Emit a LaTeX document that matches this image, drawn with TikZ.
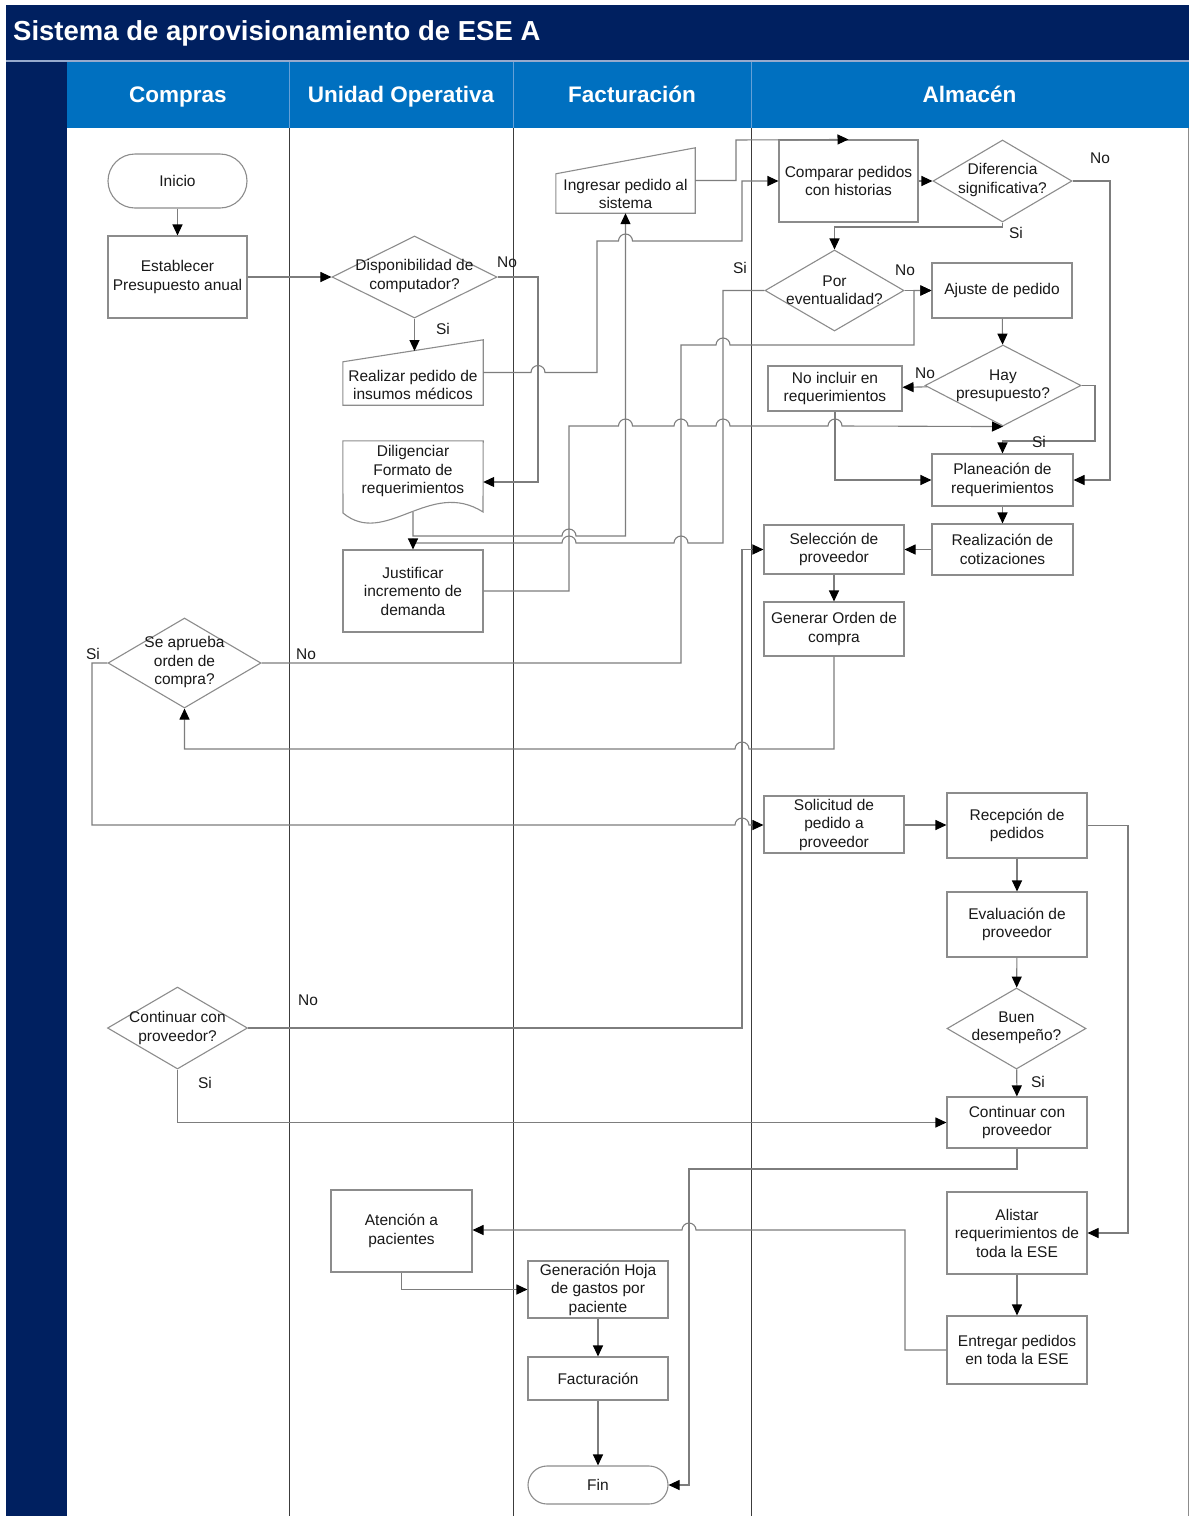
\documentclass[tikz,border=0pt]{standalone}
\usepackage{fontspec}
\setmainfont{Liberation Sans}
\usetikzlibrary{arrows.meta,shapes.geometric}
\definecolor{navy}{RGB}{0,32,96}
\definecolor{headblue}{RGB}{0,112,192}
\definecolor{sepblue}{RGB}{100,160,215}
\definecolor{edgegray}{RGB}{140,140,140}
\definecolor{linkgray}{RGB}{125,125,125}
\definecolor{lanegray}{RGB}{60,60,60}
\definecolor{inkgray}{RGB}{25,25,25}

% line hops over a crossing connector (rightwards / leftwards)
\newcommand\hopr[2]{-- ({#1-7},#2) arc[start angle=180,end angle=0,radius=7pt]}
\newcommand\hopl[2]{-- ({#1+7},#2) arc[start angle=0,end angle=180,radius=7pt]}

\begin{document}
\begin{tikzpicture}[x=1pt,y=-1pt,
  txt/.style={inner sep=0pt,align=center,text=inkgray,font=\fontsize{15.5}{18.5}\selectfont},
  shp/.style={draw=edgegray,line width=1.1pt},
  box/.style 2 args={txt,shp,rectangle,minimum width=#1pt,minimum height=#2pt},
  dec/.style 2 args={shp,diamond,inner sep=0pt,minimum width=#1pt,minimum height=#2pt},
  frame/.style 2 args={inner sep=0pt,minimum width=#1pt,minimum height=#2pt},
  link/.style={draw=linkgray,line width=1.1pt,-{Triangle[length=11pt,width=10pt,color=black]}},
  lane/.style={draw=lanegray,line width=0.9pt},
  headtxt/.style={anchor=base,inner sep=0pt,text=white,font=\bfseries\fontsize{22.5}{26}\selectfont}]

\useasboundingbox (0,0) rectangle (1189,1516);

% ---------- pool frame ----------
\fill[navy] (6,5) rectangle (1189,1516);
\fill[headblue] (67,62) rectangle (1189,128);
\fill[white] (67,128) rectangle (1188,1516);
\draw[color={rgb,255:red,150;green,170;blue,205},line width=1.5pt] (6,61) -- (1189,61);
\draw[edgegray,line width=1pt] (1188,128) -- (1188,1516);
\node[anchor=west,text=white,inner sep=0pt,font=\bfseries\fontsize{27.5}{32}\selectfont] (title) at (13,33) {Sistema de aprovisionamiento de ESE A};

% lane headers and dividers
\foreach \lx in {289,513,751} {
  \draw[sepblue,line width=1pt] (\lx,62) -- (\lx,128);
  \draw[lane] (\lx,128) -- (\lx,1516);
}
\node[headtxt] (h1) at (178,102) {Compras};
\node[headtxt] (h2) at (401,102) {Unidad Operativa};
\node[headtxt] (h3) at (632,102) {Facturación};
\node[headtxt] (h4) at (969.5,102) {Almacén};

% ---------- Compras ----------
\node[box={139}{54},rounded corners=27pt] (inicio) at (177.5,181) {Inicio};
\node[box={139}{82}] (presup) at (177.5,277) {Establecer\\Presupuesto anual};
\node[dec={153}{90}] (aprueba) at (184.5,663) {};
\node[txt] (aprueba-t) at (184.5,662) {Se aprueba\\orden de\\compra?};
\node[dec={140}{82}] (contq) at (177.5,1028) {};
\node[txt] (contq-t) at (177.5,1028) {Continuar con\\proveedor?};

% ---------- Unidad Operativa ----------
\node[dec={165}{82}] (disp) at (414.5,277) {};
\node[txt] (disp-t) at (414.5,276) {Disponibilidad de\\computador?};

\node[frame={140}{65}] (realizar) at (413,372.5) {};
\draw[shp] (realizar.south west) -- (realizar.south east) -- (realizar.north east)
  -- ([yshift=-22pt]realizar.north west) -- cycle;
\node[txt] (realizar-t) at (413,385) {Realizar pedido de\\insumos médicos};
\coordinate (realizar-in) at (414.5,351);

\node[frame={140}{72}] (dilig) at (413,477) {};
\draw[shp] (dilig.north west) -- (dilig.north east) -- (483,512)
  .. controls (430,478) and (385,548) .. (343,513) -- cycle;
\node[txt] (dilig-t) at (413,471) {Diligenciar\\Formato de\\requerimientos};
\coordinate (dilig-out) at (413,512);

\node[box={140}{82}] (justif) at (413,591) {Justificar\\incremento de\\demanda};
\node[box={141}{82}] (atencion) at (401.5,1231) {Atención a\\pacientes};

% ---------- Facturación ----------
\node[frame={139}{65}] (ingresar) at (625.5,180.5) {};
\draw[shp] (ingresar.south west) -- (ingresar.south east) -- (ingresar.north east)
  -- ([yshift=-26pt]ingresar.north west) -- cycle;
\node[txt] (ingresar-t) at (625.5,194) {Ingresar pedido al\\sistema};

\node[box={140}{57}] (genhoja) at (598,1289.5) {Generación Hoja\\de gastos por\\paciente};
\node[box={140}{43}] (factur) at (598,1378.5) {Facturación};
\node[box={140}{38},rounded corners=19pt] (fin) at (598,1485) {Fin};

% ---------- Almacén ----------
\node[box={139}{82}] (comparar) at (848.5,181) {Comparar pedidos\\con historias};
\node[dec={139}{82}] (dif) at (1002.5,181) {};
\node[txt] (dif-t) at (1002.5,180) {Diferencia\\significativa?};
\node[dec={139}{81}] (porev) at (834.5,290.5) {};
\node[txt] (porev-t) at (834.5,290) {Por\\eventualidad?};
\node[box={140}{55}] (ajuste) at (1002,290.5) {Ajuste de pedido};
\node[dec={156}{81}] (haypres) at (1003,385.5) {};
\node[txt] (haypres-t) at (1003,386) {Hay\\presupuesto?};
\node[box={134}{45}] (noincl) at (835,388.5) {No incluir en\\requerimientos};
\node[box={141}{52}] (planea) at (1002.5,480) {Planeación de\\requerimientos};
\node[box={141}{51}] (realiz) at (1002.5,549.5) {Realización de\\cotizaciones};
\node[box={140}{49}] (selecc) at (834,549.5) {Selección de\\proveedor};
\node[box={140}{54}] (generar) at (834,629) {Generar Orden de\\compra};
\node[box={140}{57}] (solicit) at (834,824.5) {Solicitud de\\pedido a\\proveedor};
\node[box={140}{65}] (recep) at (1017,825.5) {Recepción de\\pedidos};
\node[box={140}{65}] (evalua) at (1017,924.5) {Evaluación de\\proveedor};
\node[dec={139}{81}] (buen) at (1016.5,1028.5) {};
\node[txt] (buen-t) at (1016.5,1028) {Buen\\desempeño?};
\node[box={140}{51}] (contprov) at (1017,1122.5) {Continuar con\\proveedor};
\node[box={140}{82}] (alistar) at (1017,1233) {Alistar\\requerimientos de\\toda la ESE};
\node[box={140}{68}] (entregar) at (1017,1350) {Entregar pedidos\\en toda la ESE};

% ---------- connectors ----------
\draw[link] (inicio) -- (presup);
\draw[link] (presup) -- (disp);
\draw[link] (disp.south) -- (realizar-in);
\draw[link] (disp.east) -- (538,277) -- (538,482) -- (dilig.east |- 0,482);
\draw[link] (realizar.east) \hopr{538}{372.5} -- (597,372.5) -- (597,241)
  \hopr{625.5}{241} -- (742,241) -- (742,181) -- (comparar.west);
\draw[link] (ingresar.east) -| (736,140) -- (comparar.north);
\draw[link] (dilig-out) -- (413,536) \hopr{569}{536} -- (ingresar.south |- 0,536) -- (ingresar.south);
\draw[link] (porev.west) -- (723,290.5) -- (723,543) \hopl{681}{543} \hopl{569}{543}
  -- (413,543) -- (justif.north);
\draw[link] (justif.east) -- (569,591) -- (569,426) \hopr{625.5}{426} \hopr{681}{426}
  \hopr{723}{426} \hopr{835}{426} -- (haypres.south);
\draw[link] (comparar) -- (dif);
\draw[link] (dif.east) -- (1110,181) -- (1110,480) -- (planea.east);
\draw[link] (dif.south) -- (1002.5,227) -| (porev.north);
\draw[link] (porev) -- (ajuste);
\draw[link] (aprueba.east) -- (681,663) -- (681,345) \hopr{723}{345} -- (914,345)
  -- (914,290.5) -- (ajuste.west);
\draw[link] (ajuste) -- (haypres);
\draw[link] (haypres) -- (noincl);
\draw[link] (haypres.east) -- (1095,385.5) -- (1095,441) -| (planea.north);
\draw[link] (noincl.south) |- (planea.west);
\draw[link] (planea) -- (realiz);
\draw[link] (realiz) -- (selecc);
\draw[link] (selecc) -- (generar);
\draw[link] (generar.south) -- (834,749) \hopl{742}{749} -- (184.5,749) -- (aprueba.south);
\draw[link] (contq.east) -- (742,1028) -- (742,549.5) -- (selecc.west);
\draw[link] (aprueba.west) -- (92,663) -- (92,825) \hopr{742}{825} -- (solicit.west |- 0,825);
\draw[link] (solicit.east |- 0,825) -- (recep.west |- 0,825);
\draw[link] (recep.east) -- (1128,825.5) -- (1128,1233) -- (alistar.east);
\draw[link] (recep) -- (evalua);
\draw[link] (evalua) -- (buen);
\draw[link] (buen) -- (contprov);
\draw[link] (contq.south) |- (contprov.west);
\draw[link] (contprov.south) -- (1017,1169) -- (689,1169) -- (689,1485) -- (fin.east);
\draw[link] (alistar) -- (entregar);
\draw[link] (entregar.west) -- (905,1350) -- (905,1230) \hopl{689}{1230} -- (atencion.east |- 0,1230);
\draw[link] (atencion.south) |- (genhoja.west);
\draw[link] (genhoja) -- (factur);
\draw[link] (factur) -- (fin);

% ---------- branch labels ----------
\node[txt] (l-disp-no) at (507,262) {No};
\node[txt] (l-disp-si) at (443,329) {Si};
\node[txt] (l-dif-no) at (1100,158) {No};
\node[txt] (l-dif-si) at (1016,233) {Si};
\node[txt] (l-porev-si) at (740,268) {Si};
\node[txt] (l-porev-no) at (905,270) {No};
\node[txt] (l-hay-no) at (925,373) {No};
\node[txt] (l-hay-si) at (1039,442) {Si};
\node[txt] (l-apr-si) at (93,654) {Si};
\node[txt] (l-apr-no) at (306,654) {No};
\node[txt] (l-cont-no) at (308,1000) {No};
\node[txt] (l-cont-si) at (205,1083) {Si};
\node[txt] (l-buen-si) at (1038,1082) {Si};
\end{tikzpicture}
\end{document}
